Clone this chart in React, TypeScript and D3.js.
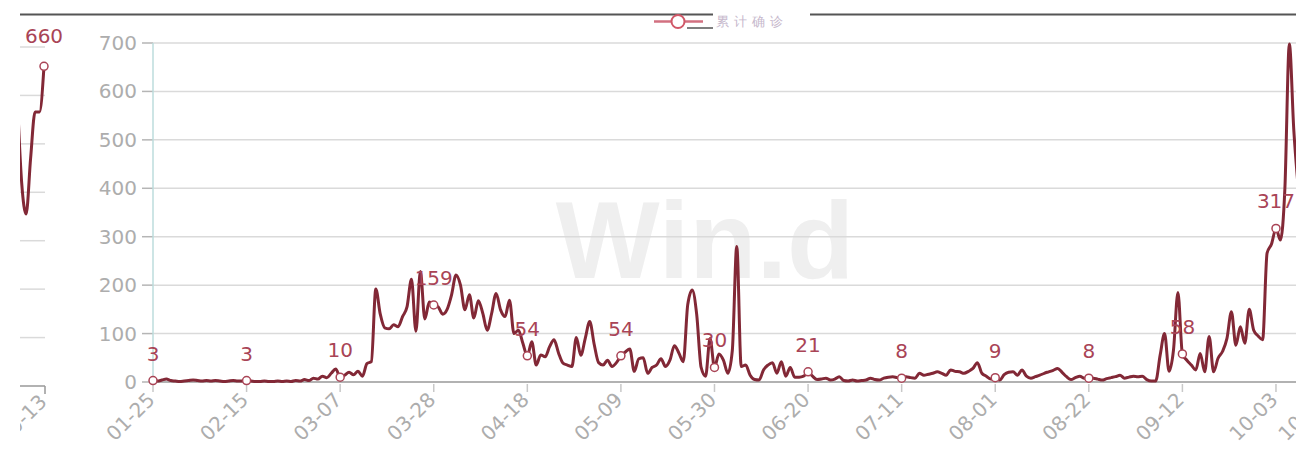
import * as d3 from 'd3'
import React from 'react'

const WIDTH = 1296
const HEIGHT = 452

// daily categories from 2020-01-25; the axis runs on past the right edge to 10-14
const START_DATE = new Date(2020, 0, 25)
const AXIS_DAYS = 264
const LABEL_EVERY = 21

// series values, one per day from 01-25
const values = [
  3, 2, 4, 6, 3, 2, 1, 2, 3, 4,
  3, 2, 3, 2, 3, 2, 1, 2, 3, 2,
  2, 3, 2, 1, 1, 2, 1, 1, 2, 1,
  2, 1, 3, 2, 5, 3, 8, 6, 12, 9,
  18, 27, 10, 14, 20, 15, 22, 12, 38, 42,
  192, 140, 112, 110, 118, 114, 135, 155, 212, 105,
  228, 130, 165, 159, 155, 140, 150, 180, 221, 200,
  149, 180, 132, 168, 142, 107, 142, 183, 149, 135,
  169, 100, 107, 80, 54, 83, 35, 56, 52, 73,
  87, 60, 39, 35, 32, 92, 55, 90, 125, 78,
  40, 35, 45, 32, 40, 54, 62, 68, 22, 48,
  50, 18, 30, 35, 48, 32, 45, 75, 60, 42,
  160, 190, 140, 30, 12, 90, 30, 58, 45, 18,
  65, 280, 32, 35, 14, 5, 4, 25, 35, 40,
  18, 42, 12, 30, 10, 10, 12, 21, 12, 5,
  6, 8, 4, 6, 11, 3, 2, 4, 2, 3,
  4, 8, 5, 4, 8, 10, 11, 9, 8, 11,
  9, 8, 18, 14, 16, 18, 21, 18, 14, 25,
  22, 21, 18, 22, 28, 40, 18, 12, 6, 9,
  4, 15, 20, 21, 14, 25, 12, 8, 11, 14,
  18, 21, 24, 28, 20, 11, 5, 9, 12, 8,
  8, 8, 6, 4, 7, 9, 11, 14, 8, 10,
  12, 11, 12, 5, 2, 2, 55, 100, 22, 66,
  185, 58, 45, 35, 25, 59, 21, 94, 21, 49,
  63, 90, 145, 76, 114, 80, 150, 107, 95, 87,
  266, 285, 317, 293, 400, 698, 520, 400,
]

// tail of the neighbouring chart, cut off at the left edge
const prevDates = ['10-07', '10-08', '10-09', '10-10', '10-11', '10-12', '10-13']
const prevValues = [600, 420, 355, 470, 566, 566, 660]

const yTicks = [0, 100, 200, 300, 400, 500, 600, 700]
const legendName = '累计确诊'
const watermark = 'Win.d'

const LINE_COLOR = '#822836'
const LABEL_COLOR = '#a94456'
const GRID_COLOR = '#dadada'
const TEXT_COLOR = '#adadad'
const FONT = '"DejaVu Sans", sans-serif'

const fmt = d3.timeFormat('%m-%d')
const categories = d3.range(AXIS_DAYS).map(i => fmt(d3.timeDay.offset(START_DATE, i)))

export default function App() {
  const x = d3.scalePoint<string>().domain(categories).range([153, 1325])
  const y = d3.scaleLinear().domain([0, 700]).range([382, 43])

  const line = d3
    .line<number>()
    .x((d, i) => x(categories[i]) as number)
    .y(d => y(d))
    .curve(d3.curveMonotoneX)

  const tickIdx = categories.map((c, i) => i).filter(i => i % LABEL_EVERY === 0 || i === categories.length - 1)
  const pointIdx = values.map((v, i) => i).filter(i => i % LABEL_EVERY === 0)

  // the left fragment
  const fx = d3.scalePoint<string>().domain(prevDates).range([17.2, 44])
  const fy = d3.scaleLinear().domain([0, 700]).range([386, 47])
  const fLine = d3
    .line<number>()
    .x((d, i) => fx(prevDates[i]) as number)
    .y(d => fy(d))
    .curve(d3.curveMonotoneX)
  const fLast = prevDates.length - 1

  return (
    <svg
      width={WIDTH}
      height={HEIGHT}
      style={{ position: 'absolute', left: 0, top: 0, background: '#fff', fontFamily: FONT }}
    >
      <defs>
        <clipPath id="frag-clip">
          <rect x={20} y={0} width={40} height={HEIGHT} />
        </clipPath>
      </defs>

      {/* watermark */}
      <text x={705} y={278} textAnchor="middle" fontSize={110} fontWeight="bold"
        fontFamily='"Liberation Sans", Arial, sans-serif' fill="#efefef">
        {watermark}
      </text>

      {/* top border + legend */}
      <line x1={20} x2={713} y1={14.5} y2={14.5} stroke="#555" strokeWidth={2} />
      <line x1={810} x2={WIDTH} y1={14.5} y2={14.5} stroke="#555" strokeWidth={2} />
      <line x1={687} x2={713} y1={28} y2={28} stroke="#555" strokeWidth={1.5} />
      <line x1={654} x2={703} y1={21.5} y2={21.5} stroke="#d27080" strokeWidth={2.5} />
      <circle cx={678} cy={21.5} r={6.5} fill="#fff" stroke="#d05868" strokeWidth={2} />
      <text x={716} y={26} fontSize={13} fill="#c6b8cc" letterSpacing={5}>
        {legendName}
      </text>

      {/* left fragment */}
      <g clipPath="url(#frag-clip)">
        {yTicks.slice(1).map(t => (
          <line key={t} x1={20} x2={45} y1={fy(t)} y2={fy(t)} stroke={GRID_COLOR} strokeWidth={1.5} />
        ))}
        <line x1={20} x2={45} y1={fy(0)} y2={fy(0)} stroke="#999" strokeWidth={1.5} />
        <line x1={45} x2={45} y1={fy(0)} y2={fy(0) + 8} stroke="#999" strokeWidth={1.5} />
        <text
          transform={`translate(${(fx(prevDates[fLast]) as number) - 1},${fy(0) + 12}) rotate(-45)`}
          textAnchor="end" dominantBaseline="central" fontSize={20} fill={TEXT_COLOR}>
          {prevDates[fLast]}
        </text>
        <path d={fLine(prevValues) || ''} fill="none" stroke={LINE_COLOR} strokeWidth={3} />
      </g>
      <circle cx={fx(prevDates[fLast])} cy={fy(prevValues[fLast])} r={4} fill="#fff" stroke={LABEL_COLOR} strokeWidth={1.5} />
      <text x={fx(prevDates[fLast])} y={fy(prevValues[fLast]) - 23} textAnchor="middle" fontSize={20} fill={LABEL_COLOR}>
        {prevValues[fLast]}
      </text>

      {/* grid + y axis */}
      {yTicks.map(t => (
        <g key={t}>
          {t > 0 && <line x1={153} x2={WIDTH} y1={y(t)} y2={y(t)} stroke={GRID_COLOR} strokeWidth={1.5} />}
          <line x1={142} x2={153} y1={y(t)} y2={y(t)} stroke="#b5b5b5" strokeWidth={1.5} />
          <text x={137} y={y(t)} textAnchor="end" dominantBaseline="central" fontSize={20} fill={TEXT_COLOR}>
            {t}
          </text>
        </g>
      ))}
      <line x1={153} x2={153} y1={y(700)} y2={y(0)} stroke="#bcdcdc" strokeWidth={1.5} />

      {/* x axis */}
      <line x1={153} x2={WIDTH} y1={y(0)} y2={y(0)} stroke="#999" strokeWidth={1.5} />
      {tickIdx.map(i => {
        const cx = x(categories[i]) as number
        return (
          <g key={i}>
            <line x1={cx} x2={cx} y1={y(0) + 2} y2={y(0) + 10} stroke="#c8c8c8" strokeWidth={1.5} />
            <text transform={`translate(${cx - 2},${y(0) + 14}) rotate(-45)`} textAnchor="end"
              dominantBaseline="central" fontSize={20} fill={TEXT_COLOR}>
              {categories[i]}
            </text>
          </g>
        )
      })}

      {/* series */}
      <path d={line(values) || ''} fill="none" stroke={LINE_COLOR} strokeWidth={3} strokeLinejoin="round" />
      {pointIdx.map(i => {
        const cx = x(categories[i]) as number
        const cy = y(values[i])
        return (
          <g key={i}>
            <circle cx={cx} cy={cy} r={4} fill="#fff" stroke={LABEL_COLOR} strokeWidth={1.5} />
            <text x={cx} y={cy - 20} textAnchor="middle" fontSize={20} fill={LABEL_COLOR}>
              {values[i]}
            </text>
          </g>
        )
      })}
    </svg>
  )
}
